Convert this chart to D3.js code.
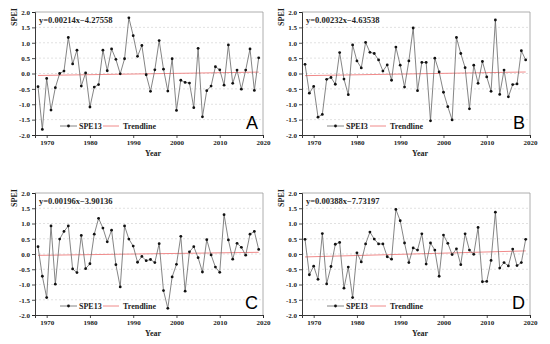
<!DOCTYPE html>
<html>
<head>
<meta charset="utf-8">
<script src="https://cdn.jsdelivr.net/npm/d3@7"></script>
<style>
  body { margin: 0; background: #fff; }
  svg text { font-family: "Liberation Serif", "Times New Roman", serif; font-weight: bold; }
</style>
</head>
<body>
<div id="chart"></div>
<script>
const W = 550, H = 344;

// years shared by all panels
const years = d3.range(1968, 2020);

// SPEI3 values
const speiA = [-0.43,-1.82,-0.16,-1.19,-0.46,0.00,0.08,1.17,0.31,0.76,-0.41,0.02,-1.09,-0.44,-0.36,0.76,0.09,0.80,0.46,-0.01,
  0.48,1.81,1.23,0.56,0.91,-0.04,-0.58,0.12,1.07,0.14,-0.57,0.48,-1.20,-0.22,-0.29,-0.31,-1.11,0.82,-1.41,-0.56,
  -0.41,0.22,0.12,-0.38,0.93,-0.32,0.11,-0.51,0.11,0.80,-0.55,0.51];
const speiB = [0.30,-0.64,-0.42,-1.42,-1.33,-0.19,-0.13,-0.35,0.68,-0.18,-0.69,0.93,0.41,0.18,1.01,0.69,0.65,0.44,0.08,0.28,
  -0.22,0.86,0.27,-0.44,0.41,1.48,-0.56,0.36,0.36,-1.54,0.50,0.05,-0.61,-1.08,-1.51,1.17,0.65,0.19,-1.15,0.27,
  -0.32,0.39,-0.11,-0.58,1.74,-0.68,0.11,-0.76,-0.36,-0.34,0.74,0.44];
const speiC = [0.24,-0.73,-1.43,0.92,-0.99,0.49,0.74,0.92,-0.49,-0.61,0.61,-0.48,-0.32,0.65,1.17,0.85,0.40,0.78,-0.35,-1.08,
  0.92,0.49,0.26,-0.27,-0.08,-0.22,-0.18,-0.28,0.34,-1.20,-1.78,-0.75,-0.34,0.58,-1.22,0.07,0.24,-0.12,-0.59,0.47,
  -0.03,-0.43,-0.60,1.29,0.46,-0.17,0.35,0.22,-0.04,0.65,0.74,0.15];
const speiD = [0.48,-0.68,-0.40,-0.83,0.67,-0.98,-0.41,0.32,0.38,-1.12,-0.43,-1.43,0.04,-0.26,0.33,0.72,0.49,0.33,0.33,-0.09,
  -0.17,1.46,1.09,0.36,-0.28,0.20,0.13,0.66,-0.33,0.36,0.13,-0.73,0.62,0.35,-0.02,0.17,-0.35,0.66,0.13,-0.01,
  0.87,-0.91,-0.90,-0.21,1.37,-0.46,-0.28,-0.39,0.16,-0.38,-0.28,0.48];

// trendline coefficients (slope, intercept) as printed
const slopes = [0.00214, 0.00232, 0.00196, 0.00388];
const intercepts = [-4.27558, -4.63538, -3.90136, -7.73197];
const equations = ["y=0.00214x\u22124.27558", "y=0.00232x\u22124.63538", "y=0.00196x\u22123.90136", "y=0.00388x\u22127.73197"];
const letters = ["A", "B", "C", "D"];
const seriesNames = ["SPE13", "SPEI3", "SPE13", "SPEI3"];

const yTicks = [-2.0, -1.5, -1.0, -0.5, 0.0, 0.5, 1.0, 1.5, 2.0];
const xTicks = [1970, 1980, 1990, 2000, 2010, 2020];

const panels = [
  {x0: 35, x1: 263, y0: 12, y1: 135, data: speiA},
  {x0: 302, x1: 530, y0: 12, y1: 135, data: speiB},
  {x0: 35, x1: 263, y0: 193, y1: 315, data: speiC},
  {x0: 302, x1: 530, y0: 193, y1: 315, data: speiD}
];

const svg = d3.select("#chart").append("svg")
  .attr("width", W)
  .attr("height", H);

panels.forEach((p, i) => {
  const g = svg.append("g");
  const x = d3.scaleLinear().domain([1967.3, 2020]).range([p.x0, p.x1]);
  const y = d3.scaleLinear().domain([-2, 2]).range([p.y1, p.y0]);

  // dashed grid
  g.selectAll("line.grid")
    .data(yTicks.filter(t => t > -2 && t < 2))
    .enter().append("line")
    .attr("x1", p.x0).attr("x2", p.x1)
    .attr("y1", d => y(d)).attr("y2", d => y(d))
    .attr("stroke", "#d4d4d4")
    .attr("stroke-width", 0.7)
    .attr("stroke-dasharray", "2,2");

  // top + right frame
  g.append("path")
    .attr("d", `M${p.x0},${p.y0}H${p.x1}V${p.y1}`)
    .attr("fill", "none")
    .attr("stroke", "#9a9a9a")
    .attr("stroke-width", 0.8);

  // axes
  const yAxis = d3.axisLeft(y).tickValues(yTicks).tickFormat(d3.format(".1f")).tickSize(3).tickPadding(2);
  const gy = g.append("g").attr("transform", `translate(${p.x0},0)`).call(yAxis);
  const xAxis = d3.axisBottom(x).tickValues(xTicks).tickFormat(d3.format("d")).tickSize(3).tickPadding(2);
  const gx = g.append("g").attr("transform", `translate(0,${p.y1})`).call(xAxis);
  [gy, gx].forEach(a => {
    a.select(".domain").attr("stroke", "#222").attr("stroke-width", 0.9);
    a.selectAll(".tick line").attr("stroke", "#222").attr("stroke-width", 0.8);
    a.selectAll("text").attr("font-size", 7).attr("fill", "#222")
      .style("font-family", "'Liberation Serif', serif").style("font-weight", "bold");
  });
  gy.selectAll("text").text(d => d < 0 ? "-" + Math.abs(d).toFixed(1) : d.toFixed(1));

  // axis titles
  g.append("text")
    .attr("transform", `translate(${p.x0 - 18},${p.y0 + 5}) rotate(-90)`)
    .attr("text-anchor", "middle")
    .attr("font-size", 8)
    .attr("fill", "#222")
    .text("SPEI");
  g.append("text")
    .attr("x", (p.x0 + p.x1) / 2 + 4)
    .attr("y", p.y1 + 21)
    .attr("text-anchor", "middle")
    .attr("font-size", 8)
    .attr("fill", "#222")
    .text("Year");

  // trendline
  const tr = [years[0], years[years.length - 1]].map(yr => ({yr, v: slopes[i] * yr + intercepts[i]}));
  g.append("line")
    .attr("x1", x(tr[0].yr)).attr("y1", y(tr[0].v))
    .attr("x2", x(tr[1].yr)).attr("y2", y(tr[1].v))
    .attr("stroke", "#f08a8a")
    .attr("stroke-width", 1);

  // series line and points
  const pts = years.map((yr, k) => ({yr, v: p.data[k]}));
  const line = d3.line().x(d => x(d.yr)).y(d => y(d.v));
  g.append("path")
    .datum(pts)
    .attr("d", line)
    .attr("fill", "none")
    .attr("stroke", "#666")
    .attr("stroke-width", 0.8);
  g.selectAll("circle.pt")
    .data(pts)
    .enter().append("circle")
    .attr("cx", d => x(d.yr))
    .attr("cy", d => y(d.v))
    .attr("r", 1.4)
    .attr("fill", "#111");

  // equation
  g.append("text")
    .attr("x", p.x0 + 4)
    .attr("y", p.y0 + 11)
    .attr("font-size", 8.5)
    .attr("fill", "#222")
    .text(equations[i]);

  // legend
  const ly = p.y1 - 9;
  g.append("line").attr("x1", p.x0 + 25).attr("x2", p.x0 + 42).attr("y1", ly).attr("y2", ly)
    .attr("stroke", "#666").attr("stroke-width", 0.8);
  g.append("circle").attr("cx", p.x0 + 33.5).attr("cy", ly).attr("r", 1.4).attr("fill", "#111");
  g.append("text").attr("x", p.x0 + 44).attr("y", ly + 3).attr("font-size", 8).attr("fill", "#222")
    .text(seriesNames[i]);
  g.append("line").attr("x1", p.x0 + 68).attr("x2", p.x0 + 84).attr("y1", ly).attr("y2", ly)
    .attr("stroke", "#f08a8a").attr("stroke-width", 1);
  g.append("text").attr("x", p.x0 + 88).attr("y", ly + 3).attr("font-size", 8).attr("fill", "#222")
    .text("Trendline");

  // panel letter
  g.append("text")
    .attr("x", p.x1 - 5)
    .attr("y", p.y1 - 6)
    .attr("text-anchor", "end")
    .attr("font-size", 18)
    .style("font-family", "'Liberation Sans', Arial, sans-serif")
    .style("font-weight", "normal")
    .attr("fill", "#000")
    .text(letters[i]);
});
</script>
</body>
</html>
